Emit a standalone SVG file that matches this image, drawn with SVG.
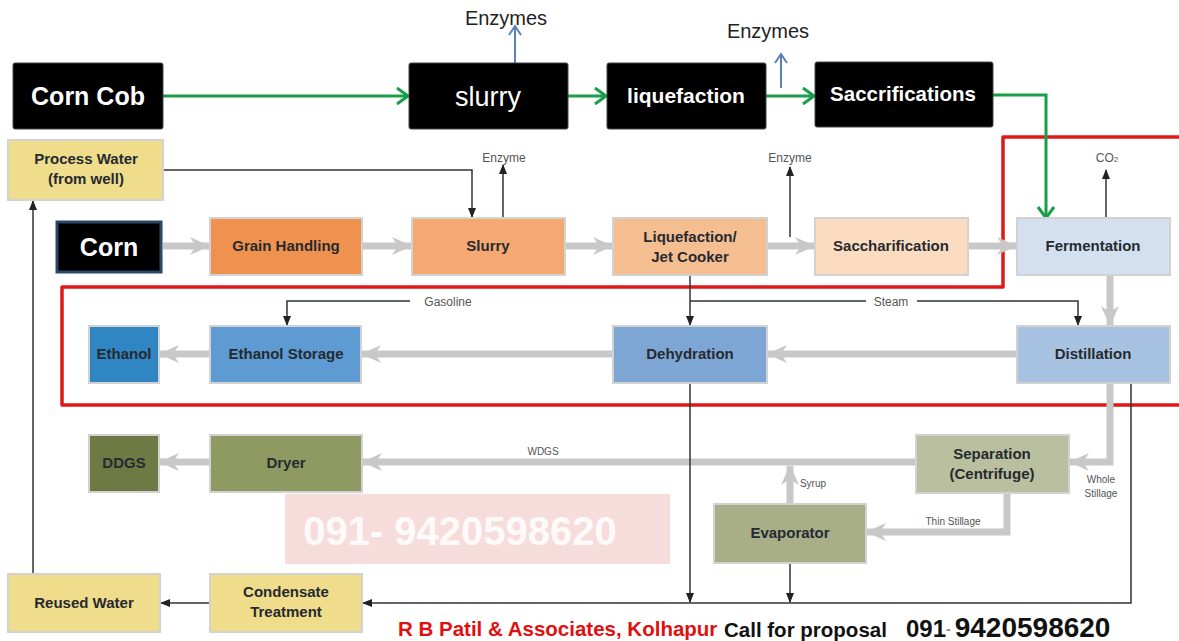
<svg xmlns="http://www.w3.org/2000/svg" width="1179" height="641" viewBox="0 0 1179 641">
<style>
text{font-family:"Liberation Sans",Arial,sans-serif}
.blk{fill:#000;stroke:#444;stroke-width:1}
.bt{fill:#fff;font-weight:bold;text-anchor:middle}
.lbl{font-weight:bold;font-size:15px;fill:#262a30;text-anchor:middle}
.sm{font-size:12px;fill:#555;text-anchor:middle}
.xs{font-size:10px;fill:#555;text-anchor:middle}
.box{stroke:#d2d2d2;stroke-width:2}
.g{fill:none;stroke:#c8c8c8;stroke-width:7;marker-end:url(#ga)}
.k{fill:none;stroke:#333;stroke-width:1.5;marker-end:url(#ka)}
.kn{fill:none;stroke:#333;stroke-width:1.5}
.gr{fill:none;stroke:#1a9e4a;stroke-width:3;marker-end:url(#gra)}
.bl{fill:none;stroke:#5a82b4;stroke-width:2;marker-end:url(#bla)}
.red{fill:none;stroke:#e01818;stroke-width:3.5;stroke-linejoin:round}
</style>
<defs>
<marker id="ga" markerUnits="userSpaceOnUse" markerWidth="22" markerHeight="20" refX="19" refY="10" orient="auto"><path d="M0,1 L20,10 L0,19 L6,10 Z" fill="#c8c8c8"/></marker>
<marker id="ka" markerUnits="userSpaceOnUse" markerWidth="10" markerHeight="10" refX="9" refY="5" orient="auto"><path d="M0,1 L10,5 L0,9 Z" fill="#222"/></marker>
<marker id="gra" markerUnits="userSpaceOnUse" markerWidth="14" markerHeight="18" refX="12" refY="9" orient="auto"><path d="M1,1 L12,9 L1,17" fill="none" stroke="#1a9e4a" stroke-width="3"/></marker>
<marker id="bla" markerUnits="userSpaceOnUse" markerWidth="12" markerHeight="14" refX="10" refY="7" orient="auto"><path d="M1,1 L10,7 L1,13" fill="none" stroke="#5a82b4" stroke-width="2"/></marker>
</defs>
<rect width="1179" height="641" fill="#fff"/>

<g id="watermark">
<rect x="285" y="494" width="385" height="70" fill="#f3cdcd" opacity="0.7"/>
<text x="460" y="545" font-size="40" font-weight="bold" fill="#fff" fill-opacity="0.9" text-anchor="middle">091- 9420598620</text>
</g>

<g id="red-outline">
<path class="red" d="M1179,137 H1003 V287 H62 V405 H1179"/>
</g>

<g id="connectors">
<path class="gr" d="M163,96 H408"/>
<path class="gr" d="M568,96 H606"/>
<path class="gr" d="M766,96 H814"/>
<path class="gr" d="M993,95 H1046 V218"/>
<path class="bl" d="M515,63 V26"/>
<path class="bl" d="M781,88 V54"/>

<path class="g" d="M163,246 H209"/>
<path class="g" d="M362,246 H411"/>
<path class="g" d="M565,246 H612"/>
<path class="g" d="M767,246 H814"/>
<path class="g" d="M968,246 H1016"/>
<path class="g" d="M1110,276 V325"/>
<path class="g" d="M1017,354 H768"/>
<path class="g" d="M613,354 H362"/>
<path class="g" d="M210,354 H160"/>
<path class="g" d="M1110,384 V462 H1070"/>
<path class="g" d="M916,462 H363"/>
<path class="g" d="M210,462 H160"/>
<path class="g" d="M1007,494 V532 H867"/>
<path class="g" d="M790,504 V466"/>

<path class="k" d="M163,170 H472 V217"/>
<path class="k" d="M503,218 V165"/>
<path class="k" d="M790,237 V167"/>
<path class="k" d="M1106,218 V170"/>
<path class="k" d="M410,301 H287 V325"/>
<path class="k" d="M690,276 V325"/>
<path class="kn" d="M690,301 H866"/>
<path class="k" d="M917,301 H1078 V325"/>
<path class="k" d="M690,384 V602"/>
<path class="k" d="M790,564 V602"/>
<path class="k" d="M1131,384 V603 H363"/>
<path class="k" d="M210,603 H161"/>
<path class="k" d="M33,574 V201"/>
</g>

<g id="connector-labels">
<text x="506" y="25" font-size="20" fill="#222" text-anchor="middle">Enzymes</text>
<text x="768" y="38" font-size="20" fill="#222" text-anchor="middle">Enzymes</text>
<text class="sm" x="504" y="162">Enzyme</text>
<text class="sm" x="790" y="162">Enzyme</text>
<text class="sm" x="1107" y="162">CO<tspan font-size="8">2</tspan></text>
<text class="sm" x="448" y="306" font-size="13">Gasoline</text>
<text class="sm" x="891" y="306" font-size="13">Steam</text>
<text class="xs" x="543" y="455">WDGS</text>
<text class="xs" x="1101" y="483">Whole</text>
<text class="xs" x="1101" y="497">Stillage</text>
<text class="xs" x="953" y="525">Thin Stillage</text>
<text class="xs" x="813" y="487">Syrup</text>
</g>

<g id="corn-cob"><rect class="blk" x="13" y="63" width="150" height="66" rx="2"/><text class="bt" x="88" y="105" font-size="25">Corn Cob</text></g>
<g id="slurry-top"><rect class="blk" x="409" y="63" width="159" height="66" rx="2"/><text x="488" y="106" font-size="27" fill="#fff" text-anchor="middle">slurry</text></g>
<g id="liquefaction-top"><rect class="blk" x="607" y="63" width="159" height="66" rx="2"/><text class="bt" x="686" y="103" font-size="21">liquefaction</text></g>
<g id="saccrifications"><rect class="blk" x="815" y="62" width="178" height="65" rx="2"/><text class="bt" x="903" y="101" font-size="20.5">Saccrifications</text></g>

<g id="process-water"><rect class="box" x="8" y="140" width="155" height="60" fill="#efdd8b"/><text class="lbl" x="86" y="164">Process Water</text><text class="lbl" x="86" y="184">(from well)</text></g>
<g id="corn"><rect x="57" y="222" width="104" height="50" fill="#000" stroke="#2c4668" stroke-width="3"/><text class="bt" x="109" y="256" font-size="25">Corn</text></g>
<g id="grain-handling"><rect class="box" x="210" y="218" width="152" height="57" fill="#f0924f"/><text class="lbl" x="286" y="251">Grain Handling</text></g>
<g id="slurry"><rect class="box" x="412" y="218" width="153" height="57" fill="#f5a872"/><text class="lbl" x="488" y="251">Slurry</text></g>
<g id="liquefaction"><rect class="box" x="613" y="218" width="154" height="57" fill="#f4be90"/><text class="lbl" x="690" y="242">Liquefaction/</text><text class="lbl" x="690" y="262">Jet Cooker</text></g>
<g id="saccharification"><rect class="box" x="815" y="218" width="153" height="57" fill="#fcdcc0"/><text class="lbl" x="891" y="251">Saccharification</text></g>
<g id="fermentation"><rect class="box" x="1017" y="218" width="153" height="57" fill="#d3e0ef"/><text class="lbl" x="1093" y="251">Fermentation</text></g>

<g id="ethanol"><rect class="box" x="89" y="326" width="70" height="57" fill="#2f86c2"/><text class="lbl" x="124" y="359">Ethanol</text></g>
<g id="ethanol-storage"><rect class="box" x="210" y="326" width="151" height="57" fill="#5d9bd2"/><text class="lbl" x="286" y="359">Ethanol Storage</text></g>
<g id="dehydration"><rect class="box" x="613" y="326" width="154" height="57" fill="#7ea6d5"/><text class="lbl" x="690" y="359">Dehydration</text></g>
<g id="distillation"><rect class="box" x="1017" y="326" width="153" height="57" fill="#a8c3e1"/><text class="lbl" x="1093" y="359">Distillation</text></g>

<g id="ddgs"><rect class="box" x="89" y="435" width="70" height="57" fill="#6e7a44"/><text class="lbl" x="124" y="468">DDGS</text></g>
<g id="dryer"><rect class="box" x="210" y="435" width="152" height="57" fill="#8e9a61"/><text class="lbl" x="286" y="468">Dryer</text></g>
<g id="separation"><rect class="box" x="916" y="435" width="153" height="58" fill="#b9bf9f"/><text class="lbl" x="992" y="459">Separation</text><text class="lbl" x="992" y="479">(Centrifuge)</text></g>
<g id="evaporator"><rect class="box" x="714" y="504" width="152" height="59" fill="#a7ae88"/><text class="lbl" x="790" y="538">Evaporator</text></g>

<g id="reused-water"><rect class="box" x="8" y="574" width="152" height="58" fill="#efdd8b"/><text class="lbl" x="84" y="608">Reused Water</text></g>
<g id="condensate"><rect class="box" x="210" y="574" width="152" height="58" fill="#efdd8b"/><text class="lbl" x="286" y="597">Condensate</text><text class="lbl" x="286" y="617">Treatment</text></g>

<g id="footer">
<text x="398" y="636" font-size="20.5" font-weight="bold" fill="#e01010">R B Patil &amp; Associates, Kolhapur</text>
<text x="724" y="637" font-size="20.5" font-weight="bold" fill="#111">Call for proposal</text>
<text x="906" y="637" font-size="24" font-weight="bold" fill="#111">091<tspan font-size="14" dy="-3" fill="#888">-</tspan><tspan font-size="28" dy="3" dx="4">9420598620</tspan></text>
</g>
</svg>
